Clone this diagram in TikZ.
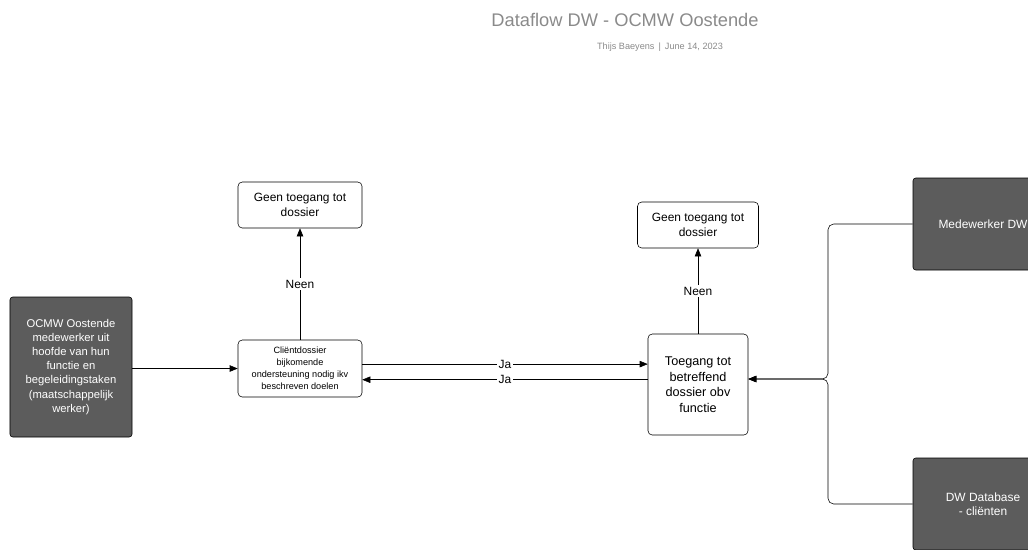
\documentclass[tikz,border=0pt]{standalone}
\usepackage{fontspec}
\setmainfont{Liberation Sans}
\usetikzlibrary{arrows.meta}
\definecolor{darkbox}{HTML}{5C5C5C}
\definecolor{titlegray}{HTML}{8A8A8A}
\tikzset{
    stepbox/.style={draw, rounded corners=3pt, align=center, font=\fontsize{8.5}{10.5}\selectfont},
    actor/.style={draw, fill=darkbox, text=white, rounded corners=2pt, align=center, font=\fontsize{8}{10}\selectfont},
    flow/.style={-{Triangle[length=2mm,width=1.6mm]}},
    lbl/.style={fill=white, inner sep=1pt, font=\fontsize{8.5}{10}\selectfont}
}
\begin{document}
\begin{tikzpicture}
    \useasboundingbox (0,0) rectangle (25.7,-13.725);
    % Title
    \node[text=titlegray, font=\fontsize{13}{15}\selectfont] (title) at (15.625,-0.5) {Dataflow DW - OCMW Oostende};
    \node[text=titlegray, font=\fontsize{6.5}{8}\selectfont] (sub) at (16.5,-1.175) {Thijs Baeyens \,|\, June 14, 2023};

    % Actors
    \node[actor, minimum width=3.05cm, minimum height=3.5cm] (ocmw) at (1.775,-9.175) {OCMW Oostende\\medewerker uit\\hoofde van hun\\functie en\\begeleidingstaken\\(maatschappelijk\\werker)};
    \node[actor, minimum width=3.5cm, minimum height=2.3cm, font=\fontsize{8.5}{10}\selectfont] (med) at (24.575,-5.6) {Medewerker DW};
    \node[actor, minimum width=3.5cm, minimum height=2.3cm, font=\fontsize{8.5}{10}\selectfont] (db) at (24.575,-12.6) {DW Database\\- cliënten};

    % Steps
    \node[stepbox, minimum width=3.1cm, minimum height=1.15cm] (geen1) at (7.5,-5.125) {Geen toegang tot\\dossier};
    \node[stepbox, minimum width=3.1cm, minimum height=1.425cm, font=\fontsize{6.5}{8.5}\selectfont] (cli) at (7.5,-9.2125) {Cliëntdossier\\bijkomende\\ondersteuning nodig ikv\\beschreven doelen};
    \node[stepbox, minimum width=3.025cm, minimum height=1.15cm] (geen2) at (17.45,-5.625) {Geen toegang tot\\dossier};
    \node[stepbox, minimum width=2.5cm, minimum height=2.525cm, font=\fontsize{9}{11}\selectfont] (toeg) at (17.45,-9.6125) {Toegang tot\\betreffend\\dossier obv\\functie};
    \coordinate (split) at (20.7,-9.475);

    % Connectors
    \draw[flow] (ocmw.east |- cli.west) -- (cli.west);
    \draw[flow] (cli.north) -- node[lbl] {Neen} (geen1.south);
    \draw[flow] (toeg.north) -- node[lbl] {Neen} (geen2.south);
    \draw[flow] ([yshift=1.1mm]cli.east) -- node[lbl, pos=0.5] {Ja} ([yshift=1.1mm]cli.east -| toeg.west);
    \draw[flow] ([yshift=1.2mm]toeg.west) -- node[lbl, pos=0.5] {Ja} ([yshift=1.2mm]toeg.west -| cli.east);
    \draw[flow, rounded corners=4pt] (med.west) -| (split) -- (split -| toeg.east);
    \draw[flow, rounded corners=4pt] (db.west) -| (split) -- (split -| toeg.east);
\end{tikzpicture}
\end{document}
